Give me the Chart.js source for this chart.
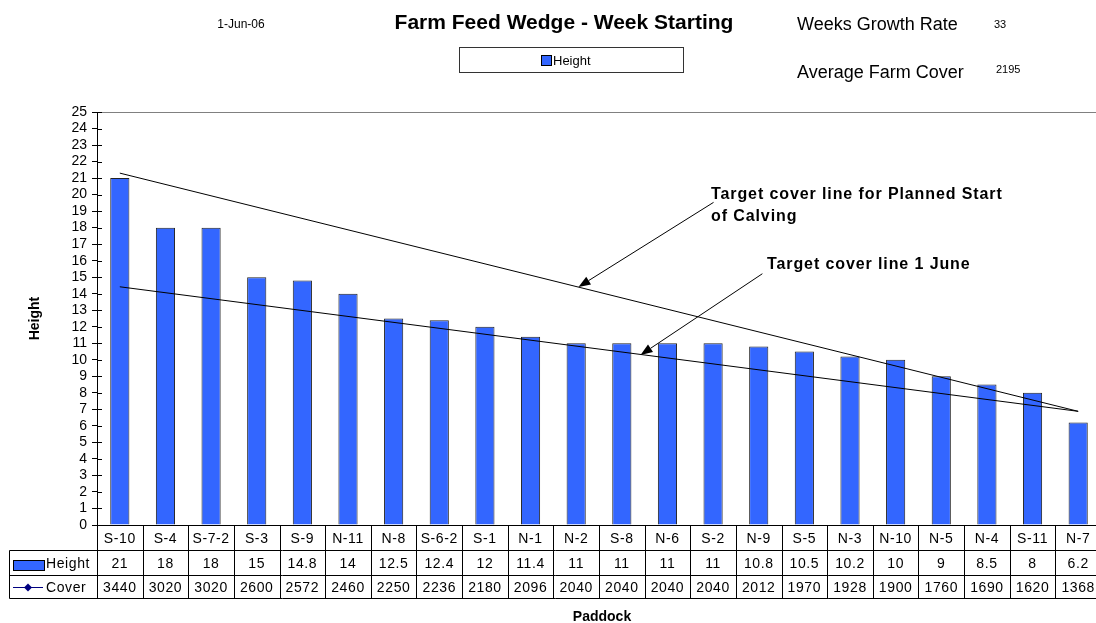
<!DOCTYPE html>
<html>
<head>
<meta charset="utf-8">
<script src="https://cdn.jsdelivr.net/npm/chart.js@4/dist/chart.umd.min.js"></script>
<style>
  html, body { margin: 0; padding: 0; background: #fff; overflow: hidden; }
  #chart { display: block; }
</style>
</head>
<body>
<canvas id="chart" width="1102" height="623"></canvas>
<script>
// Данные
const paddocks = ['S-10','S-4','S-7-2','S-3','S-9','N-11','N-8','S-6-2','S-1','N-1','N-2',
                  'S-8','N-6','S-2','N-9','S-5','N-3','N-10','N-5','N-4','S-11','N-7'];
const heights = [21, 18, 18, 15, 14.8, 14, 12.5, 12.4, 12, 11.4, 11,
                 11, 11, 11, 10.8, 10.5, 10.2, 10, 9, 8.5, 8, 6.2];
const covers = [3440, 3020, 3020, 2600, 2572, 2460, 2250, 2236, 2180, 2096, 2040,
                2040, 2040, 2040, 2012, 1970, 1928, 1900, 1760, 1690, 1620, 1368];

// Целевые линии: высота у первого и последнего загона
const pscLine = [21.3, 6.88];
const juneLine = [14.42, 6.88];

// Стрелки к подписям: [начало, остриё] (x - индекс загона, y - высота)
const pscArrow = [{x: 13.01, y: 19.53}, {x: 10.05, y: 14.41}];
const juneArrow = [{x: 14.08, y: 15.21}, {x: 11.41, y: 10.29}];

const weekDate = '1-Jun-06';
const growthRate = 33;
const avgCover = 2195;

const FONT = "'Liberation Sans', Arial, sans-serif";
const BLUE = '#3366FF';

// линия только по крайним точкам
function endsOnly(pair) {
    return paddocks.map((_, i) => i === 0 ? pair[0] : (i === paddocks.length - 1 ? pair[1] : null));
}

function setFont(ctx, size, bold, spacing) {
    ctx.font = (bold ? 'bold ' : '') + size + 'px ' + FONT;
    ctx.letterSpacing = (spacing || 0) + 'px';
}

function arrow(ctx, xs, ys, pts) {
    const x0 = xs.getPixelForValue(pts[0].x), y0 = ys.getPixelForValue(pts[0].y);
    const x1 = xs.getPixelForValue(pts[1].x), y1 = ys.getPixelForValue(pts[1].y);
    const a = Math.atan2(y1 - y0, x1 - x0);
    const len = 12, w = 4.5;
    ctx.strokeStyle = '#000';
    ctx.lineWidth = 1;
    ctx.beginPath();
    ctx.moveTo(x0, y0);
    ctx.lineTo(x1 - Math.cos(a) * len, y1 - Math.sin(a) * len);
    ctx.stroke();
    ctx.fillStyle = '#000';
    ctx.beginPath();
    ctx.moveTo(x1, y1);
    ctx.lineTo(x1 - Math.cos(a) * len - Math.sin(a) * w, y1 - Math.sin(a) * len + Math.cos(a) * w);
    ctx.lineTo(x1 - Math.cos(a) * len + Math.sin(a) * w, y1 - Math.sin(a) * len - Math.cos(a) * w);
    ctx.closePath();
    ctx.fill();
}

// Заголовки, таблица, стрелки
const extras = {
    id: 'extras',
    afterDraw(chart) {
        const ctx = chart.ctx;
        const area = chart.chartArea;
        const ys = chart.scales.y;
        const xs = chart.scales.x;
        ctx.save();

        // рамка области графика
        ctx.strokeStyle = '#808080';
        ctx.lineWidth = 1;
        ctx.beginPath();
        ctx.moveTo(area.left, Math.round(area.top) + 0.5);
        ctx.lineTo(area.right, Math.round(area.top) + 0.5);
        ctx.moveTo(Math.round(area.right) - 0.5, area.top);
        ctx.lineTo(Math.round(area.right) - 0.5, area.bottom);
        ctx.stroke();

        // внутренние засечки оси Y
        ctx.strokeStyle = '#000';
        ctx.beginPath();
        ys.ticks.forEach(t => {
            const y = Math.round(ys.getPixelForValue(t.value)) + 0.5;
            ctx.moveTo(area.left, y);
            ctx.lineTo(area.left + 5, y);
        });
        ctx.stroke();

        // шапка
        ctx.fillStyle = '#000';
        ctx.textBaseline = 'middle';
        ctx.textAlign = 'center';
        setFont(ctx, 21, true);
        ctx.fillText('Farm Feed Wedge - Week Starting', 564, 23);
        setFont(ctx, 12, false);
        ctx.fillText(weekDate, 241, 25);
        ctx.textAlign = 'left';
        setFont(ctx, 18, false);
        ctx.fillText('Weeks Growth Rate', 797, 25);
        ctx.fillText('Average Farm Cover', 797, 73);
        setFont(ctx, 11, false);
        ctx.fillText(String(growthRate), 994, 25);
        ctx.fillText(String(avgCover), 996, 70);

        // легенда
        ctx.strokeStyle = '#333';
        ctx.strokeRect(459.5, 47.5, 224, 25);
        ctx.fillStyle = BLUE;
        ctx.fillRect(541.5, 55.5, 10, 10);
        ctx.strokeStyle = '#000';
        ctx.strokeRect(541.5, 55.5, 10, 10);
        ctx.fillStyle = '#000';
        setFont(ctx, 13, false);
        ctx.fillText('Height', 553, 61);

        // подписи к целевым линиям
        setFont(ctx, 16, true, 0.9);
        ctx.textBaseline = 'alphabetic';
        ctx.fillText('Target cover line for Planned Start', 711, 199);
        ctx.fillText('of Calving', 711, 221);
        ctx.fillText('Target cover line 1 June', 767, 269);
        arrow(ctx, xs, ys, pscArrow);
        arrow(ctx, xs, ys, juneArrow);

        // таблица данных
        const n = paddocks.length;
        const colW = (area.right - area.left) / n;
        const r0 = Math.round(area.bottom) + 0.5;
        const r1 = r0 + 25, r2 = r1 + 25, r3 = r2 + 23;
        const tl = 9.5;
        ctx.strokeStyle = '#000';
        ctx.lineWidth = 1;
        ctx.beginPath();
        ctx.moveTo(area.left, r0); ctx.lineTo(area.right, r0);
        [r1, r2, r3].forEach(r => { ctx.moveTo(tl, r); ctx.lineTo(area.right, r); });
        ctx.moveTo(tl, r1); ctx.lineTo(tl, r3);
        for (let i = 0; i <= n; i++) {
            const x = Math.round(area.left + i * colW) + 0.5;
            ctx.moveTo(x, r0); ctx.lineTo(x, r3);
        }
        ctx.stroke();

        ctx.textAlign = 'center';
        ctx.textBaseline = 'middle';
        setFont(ctx, 14, false, 0.6);
        for (let i = 0; i < n; i++) {
            const cx = xs.getPixelForValue(i);
            ctx.fillText(paddocks[i], cx, (r0 + r1) / 2 + 1);
            ctx.fillText(String(heights[i]), cx, (r1 + r2) / 2 + 1);
            ctx.fillText(String(covers[i]), cx, (r2 + r3) / 2 + 1);
        }

        // ключи рядов
        ctx.fillStyle = BLUE;
        ctx.fillRect(13.5, r1 + 10, 31, 10);
        ctx.strokeStyle = '#000';
        ctx.strokeRect(13.5, r1 + 10, 31, 10);
        const cy = Math.round((r2 + r3) / 2) + 0.5;
        ctx.strokeStyle = '#000080';
        ctx.beginPath();
        ctx.moveTo(13, cy); ctx.lineTo(43, cy);
        ctx.stroke();
        ctx.fillStyle = '#000080';
        ctx.beginPath();
        ctx.moveTo(28, cy - 4); ctx.lineTo(32, cy); ctx.lineTo(28, cy + 4); ctx.lineTo(24, cy);
        ctx.closePath();
        ctx.fill();
        ctx.fillStyle = '#000';
        ctx.textAlign = 'left';
        setFont(ctx, 14, false, 0.6);
        ctx.fillText('Height', 46, (r1 + r2) / 2 + 1);
        ctx.fillText('Cover', 46, (r2 + r3) / 2 + 1);

        // подпись оси X
        ctx.textAlign = 'center';
        setFont(ctx, 14, true);
        ctx.fillText('Paddock', 602, 617);

        ctx.restore();
    }
};

new Chart(document.getElementById('chart'), {
    type: 'bar',
    data: {
        labels: paddocks,
        datasets: [
            {
                type: 'line',
                label: 'Target PSC',
                data: endsOnly(pscLine),
                spanGaps: true,
                borderColor: '#000',
                borderWidth: 1,
                pointRadius: 0,
                fill: false,
                order: 0
            },
            {
                type: 'line',
                label: 'Target 1 June',
                data: endsOnly(juneLine),
                spanGaps: true,
                borderColor: '#000',
                borderWidth: 1,
                pointRadius: 0,
                fill: false,
                order: 0
            },
            {
                label: 'Height',
                data: heights,
                backgroundColor: BLUE,
                borderColor: '#222',
                borderWidth: 1,
                categoryPercentage: 1,
                barPercentage: 0.42,
                grouped: false,
                order: 1
            }
        ]
    },
    options: {
        responsive: false,
        animation: false,
        layout: { padding: { top: 112, bottom: 98, left: 0, right: 1 } },
        plugins: {
            legend: { display: false },
            tooltip: { enabled: false }
        },
        scales: {
            x: { display: false, offset: true },
            y: {
                min: 0,
                max: 25,
                afterFit(scale) { scale.width = 97; },
                ticks: {
                    stepSize: 1,
                    autoSkip: false,
                    color: '#000',
                    padding: 5,
                    font: { family: FONT, size: 14 }
                },
                grid: {
                    drawOnChartArea: false,
                    drawTicks: true,
                    tickLength: 5,
                    color: '#000'
                },
                border: { color: '#000', width: 1 },
                title: {
                    display: true,
                    text: 'Height',
                    color: '#000',
                    font: { family: FONT, size: 14, weight: 'bold' },
                    padding: { top: 27, bottom: 0 }
                }
            }
        }
    },
    plugins: [extras]
});
</script>
</body>
</html>
